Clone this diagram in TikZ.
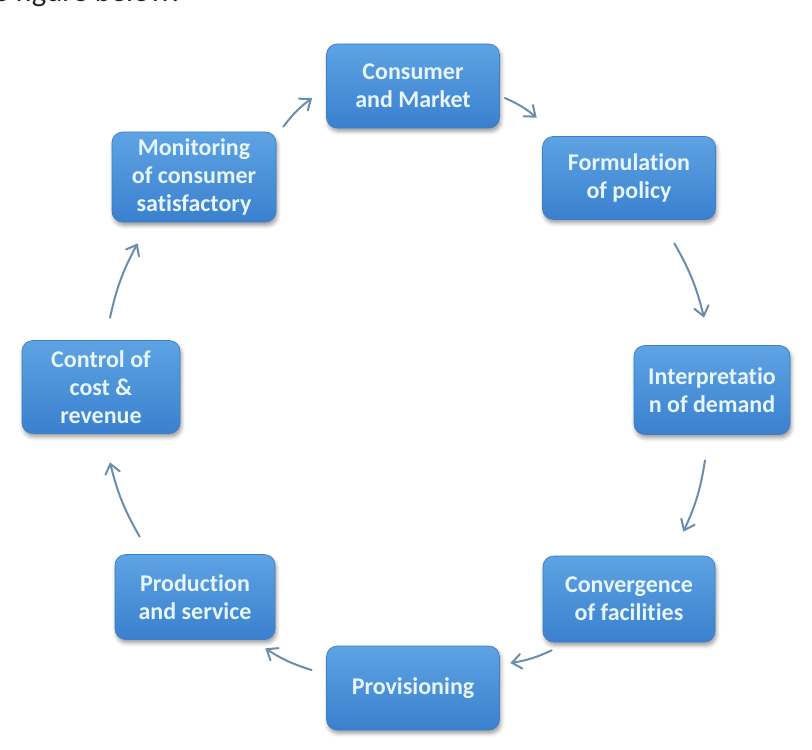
\documentclass[tikz,border=0pt]{standalone}
\usepackage{fontspec}
\setmainfont{Carlito}[Ligatures={NoCommon,NoRare,NoContextual}]
\usetikzlibrary{arrows.meta,shadows.blur}
\definecolor{boxtop}{HTML}{5EA3E3}
\definecolor{boxbot}{HTML}{3A80CE}
\definecolor{boxedge}{HTML}{3C7FC6}
\definecolor{boxtext}{HTML}{E6F6FB}
\definecolor{arrowcol}{HTML}{6A8DAE}
\definecolor{bodytext}{HTML}{222222}
% keep "t" and "i" as separate glyphs
\newcommand{\tisep}{t\kern0pt i}
\begin{document}
\begin{tikzpicture}[x=0.75pt,y=0.75pt,
  stagebox/.style={rectangle, rounded corners=8pt, top color=boxtop, bottom color=boxbot,
    draw=boxedge, line width=0.5pt, text=boxtext, align=center, inner sep=0pt,
    font=\bfseries\fontsize{18}{21}\selectfont,
    blur shadow={shadow xshift=1pt, shadow yshift=-2.5pt, shadow blur radius=3pt, shadow opacity=40}},
  flow/.style={draw=arrowcol, line width=1.5pt, line cap=round,
    -{Straight Barb[length=7pt,width=11pt,line cap=round]}}]
\useasboundingbox (0,0) rectangle (812,-749);
\clip (0,0) rectangle (812,-749);

% running text above the figure
\node[anchor=base west, inner sep=0pt, text=bodytext, font=\fontsize{23}{27}\selectfont]
  (caption) at (-7,-2) {e figure below:};

% stages of the cycle
\node[stagebox, minimum width=129.75pt, minimum height=63pt]   (cm)     at (413,-86)  {Consumer\\and Market};
\node[stagebox, minimum width=129.75pt, minimum height=62.25pt](form)   at (629,-178) {Formula\tisep on\\of policy};
\node[stagebox, minimum width=117pt,    minimum height=66.75pt](interp) at (712,-390) {Interpreta\tisep o\\n of demand};
\node[stagebox, minimum width=129pt,    minimum height=64.5pt] (conv)   at (629,-599) {Convergence\\of facili\tisep es};
\node[stagebox, minimum width=129.75pt, minimum height=63pt]   (prov)   at (413,-688) {Provisioning};
\node[stagebox, minimum width=120pt,    minimum height=63.75pt](prod)   at (195,-597) {Produc\tisep on\\and service};
\node[stagebox, minimum width=118.5pt,  minimum height=69.75pt](ctrl)   at (101,-387) {Control of\\cost \&\\revenue};
\node[stagebox, minimum width=123pt,    minimum height=67.5pt] (mon)    at (194,-177) {Monitoring\\of consumer\\satisfactory};

% clockwise arrows between stages
\draw[flow] ([shift={(7,5)}]mon.north east)     to[bend left=8] ([shift={(-14,-12)}]cm.west);
\draw[flow] ([shift={(5,-12)}]cm.east)          to[bend left=8] ([shift={(-5.5,18.5)}]form.north west);
\draw[flow] ([shift={(-41.5,-23.5)}]form.south east) to[bend left=8] ([shift={(-8,27.5)}]interp.north);
\draw[flow] ([shift={(-7,-25.5)}]interp.south)  to[bend left=8] ([shift={(-32,24)}]conv.north east);
\draw[flow] ([shift={(9,-8)}]conv.south west)   to[bend left=8] ([shift={(10.5,25)}]prov.east);
\draw[flow] ([shift={(-14.5,18)}]prov.west)     to[bend left=8] ([shift={(-10,-8.5)}]prod.south east);
\draw[flow] ([shift={(25,17.5)}]prod.north west) to[bend left=8] ([shift={(9,-28.5)}]ctrl.south);
\draw[flow] ([shift={(9,22.5)}]ctrl.north)      to[bend left=8] ([shift={(26,-21)}]mon.south west);
\end{tikzpicture}
\end{document}
